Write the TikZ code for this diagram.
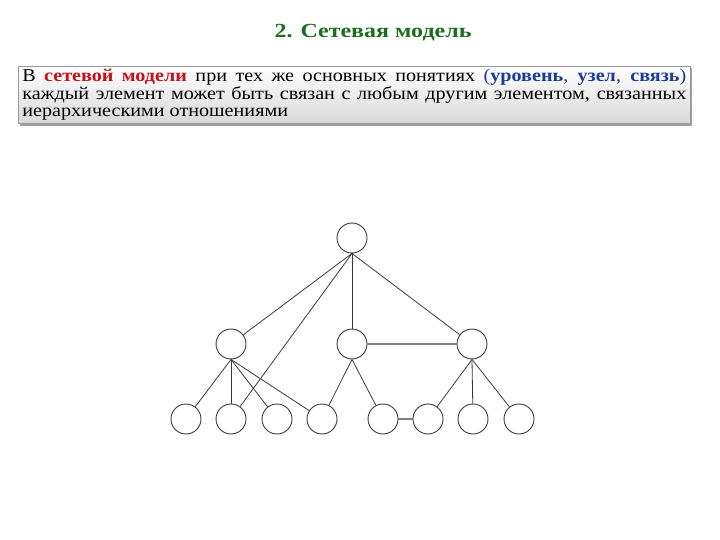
\documentclass[tikz,border=0pt]{standalone}
\usepackage{fontspec}
\setmainfont{Liberation Serif}
\newfontfamily\widefont[FakeStretch=1.12]{Liberation Serif}
\newfontfamily\ttlfont[FakeStretch=1.2]{Liberation Serif}
\usetikzlibrary{positioning,shadows}
\definecolor{ttlgreen}{HTML}{1B6E1F}
\definecolor{keyred}{HTML}{C8101A}
\definecolor{keyblue}{HTML}{1D3B9A}
\definecolor{lnk}{HTML}{3A3A3A}

\begin{document}
\begin{tikzpicture}[x=1pt,y=-1pt,
  vtx/.style={circle,draw=lnk,line width=0.9pt,fill=white,minimum size=30pt,inner sep=0pt},
  edg/.style={lnk,line width=0.8pt},
  bar/.style={gray,line width=1.8pt},
  info/.style={draw=gray!80,line width=0.6pt,top color=white,bottom color=gray!30,
              drop shadow={shadow xshift=2pt,shadow yshift=-2pt,fill=gray!75,opacity=1},
              text width=664pt,align=justify,inner xsep=4pt,inner ysep=3pt,
              font=\widefont\fontsize{18}{17.5}\selectfont}
]
\useasboundingbox (0,0) rectangle (720,540);

% Title
\node[font=\ttlfont\fontsize{20}{24}\selectfont\bfseries,text=ttlgreen] (ttl) at (373,33) {2. Сетевая модель};

% ---- Definition box ----------------------------------------
\node[info,anchor=north west] (def) at (18,66)
  {В \textcolor{keyred}{\textbf{сетевой модели}} при тех же основных понятиях
   \textcolor{keyblue}{(\textbf{уровень}, \textbf{узел}, \textbf{связь})}
   каждый элемент может быть связан с любым другим элементом, связанных
   иерархическими отношениями};

% ---- Vertices ----------------------------------------------
\node[vtx] (root) at (352,238) {};
\node[vtx] (ml) at (231,344) {};
\node[vtx] (mc) at (352,344) {};
\node[vtx] (mr) at (472,344) {};
\foreach \x [count=\i] in {186,231,277,322,383,428,473,519}
  \node[vtx] (b\i) at (\x,419) {};

% ---- Links -------------------------------------------------
\draw[edg] (root.south) -- (ml);
\draw[edg] (root.south) -- (b2);
\draw[edg] (root.south) -- (mc);
\draw[edg] (root.south) -- (mr);
\draw[bar] (mc) -- (mr);
\foreach \j in {1,2,3,4}
  \draw[edg] (ml.south) -- (b\j);
\draw[edg] (mc.south) -- (b4);
\draw[edg] (mc.south) -- (b5);
\draw[bar] (b5) -- (b6);
\foreach \j in {6,7,8}
  \draw[edg] (mr.south) -- (b\j);

\end{tikzpicture}
\end{document}
